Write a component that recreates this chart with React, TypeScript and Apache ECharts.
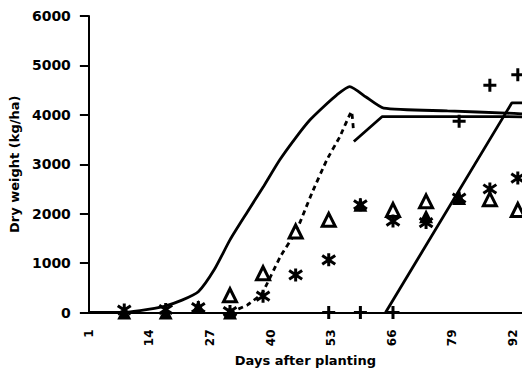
import { useEffect, useRef } from "react";
import * as echarts from "echarts";

// Sampling dates (days after planting) for the measured dry weights
const sampleDays = [8.6, 17.5, 24.5, 31.3, 38.4, 45.4, 52.5, 59.3, 66.3, 73.4, 80.5, 87.1, 93.1];
const filledTriangle = [0, 0, 110, 0, null, null, null, 2180, null, 1950, 2315, null, null];
const openTriangle = [null, null, null, 350, 795, 1640, 1875, null, 2075, 2250, null, 2290, 2075];
const asterisk = [50, 60, 100, 20, 330, 760, 1065, 2180, 1850, 1820, 2315, 2500, 2720];
const plusMark = [null, null, null, null, null, null, 0, 0, 0, null, 3870, 4600, 4810];

// Simulated growth curves
const simADays = [1, 8, 12, 17, 21, 24.5, 28, 31.3, 35, 38.5, 42, 45.6, 48.5, 51.4, 54.2, 57, 60.5, 64.3, 78, 90.7, 94];
const simAValues = [0, 0, 40, 120, 250, 420, 880, 1470, 2030, 2550, 3090, 3560, 3900, 4165, 4400, 4570, 4360, 4135, 4080, 4035, 4020];

const simBDashDays = [31.3, 35, 38.2, 42.1, 45.5, 48.9, 52.1, 54.9, 57.4, 57.8];
const simBDashValues = [0, 150, 390, 1130, 1640, 2420, 3090, 3560, 4065, 3700];
const simBSolidDays = [57.9, 64, 90.7, 94];
const simBSolidValues = [3460, 3965, 3965, 3960];

const simCDays = [64.7, 91.8, 94];
const simCValues = [0, 4240, 4240];

const xTickLabels = [1, 14, 27, 40, 53, 66, 79, 92];

const zip = (xs: number[], ys: (number | null)[]) =>
  xs.map((x, i) => [x, ys[i]]).filter((p) => p[1] !== null);

const FONT = "DejaVu Sans";

export default function App() {
  const ref = useRef<HTMLDivElement>(null);

  useEffect(() => {
    if (!ref.current) return;
    const chart = echarts.init(ref.current, null, { renderer: "svg" });

    const lineStyleBase = { color: "#000", width: 2.8 };
    const markStyle = { color: "#000", borderColor: "#000", borderWidth: 3, opacity: 1 };

    chart.setOption({
      animation: false,
      backgroundColor: "#fff",
      grid: { left: 87, right: 0, top: 16, bottom: 64.5, containLabel: false },
      xAxis: {
        type: "value",
        min: 1,
        max: 94,
        name: "Days after planting",
        nameLocation: "middle",
        nameGap: 40,
        nameTextStyle: { fontFamily: FONT, fontWeight: "bold", fontSize: 13, color: "#000" },
        axisLine: { show: true, onZero: false, lineStyle: { color: "#000", width: 2 } },
        axisTick: { show: false, customValues: xTickLabels },
        splitLine: { show: false },
        axisLabel: {
          customValues: xTickLabels,
          rotate: 90,
          margin: 17,
          fontFamily: FONT,
          fontWeight: "bold",
          fontSize: 12,
          color: "#000",
        },
      },
      yAxis: {
        type: "value",
        min: 0,
        max: 6000,
        interval: 1000,
        name: "Dry weight (kg/ha)",
        nameLocation: "middle",
        nameGap: 55,
        nameTextStyle: { fontFamily: FONT, fontWeight: "bold", fontSize: 13, color: "#000" },
        axisLine: { show: true, lineStyle: { color: "#000", width: 2 } },
        axisTick: { show: true, inside: false, length: 9, lineStyle: { color: "#000", width: 2 } },
        splitLine: { show: false },
        axisLabel: {
          margin: 18,
          fontFamily: FONT,
          fontWeight: "bold",
          fontSize: 14,
          color: "#000",
          formatter: (v: number) => String(v),
        },
      },
      series: [
        {
          type: "line",
          data: zip(simADays, simAValues),
          smooth: 0.2,
          showSymbol: false,
          lineStyle: lineStyleBase,
          z: 2,
        },
        {
          type: "line",
          data: zip(simBDashDays, simBDashValues),
          smooth: 0.1,
          showSymbol: false,
          lineStyle: { ...lineStyleBase, type: [5, 4] },
          z: 2,
        },
        {
          type: "line",
          data: zip(simBSolidDays, simBSolidValues),
          showSymbol: false,
          lineStyle: lineStyleBase,
          z: 2,
        },
        {
          type: "line",
          data: zip(simCDays, simCValues),
          showSymbol: false,
          lineStyle: lineStyleBase,
          z: 2,
        },
        {
          type: "scatter",
          data: zip(sampleDays, openTriangle),
          symbol: "triangle",
          symbolSize: 13,
          itemStyle: { color: "#fff", borderColor: "#000", borderWidth: 3, opacity: 1 },
          z: 3,
        },
        {
          type: "scatter",
          data: zip(sampleDays, filledTriangle),
          symbol: "triangle",
          symbolSize: 14,
          itemStyle: { color: "#000", opacity: 1 },
          z: 4,
        },
        {
          type: "scatter",
          data: zip(sampleDays, asterisk),
          symbol: "path://M6,0L6,12M1,2L11,10M1,10L11,2",
          symbolSize: 13,
          itemStyle: markStyle,
          z: 5,
        },
        {
          type: "scatter",
          data: zip(sampleDays, plusMark),
          symbol: "path://M6,0L6,12M0,6L12,6",
          symbolSize: 13,
          itemStyle: markStyle,
          z: 5,
        },
      ],
    });

    return () => chart.dispose();
  }, []);

  return (
    <div
      ref={ref}
      style={{ position: "fixed", left: 0, top: 0, width: 522, height: 377 }}
    />
  );
}
